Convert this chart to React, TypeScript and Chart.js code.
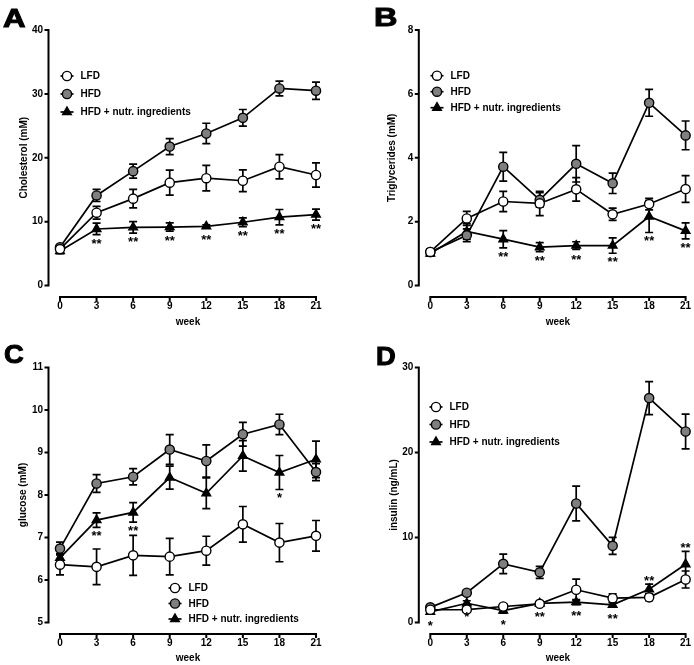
import React, { useEffect, useRef } from "react";
import { Chart, registerables } from "chart.js";

Chart.register(...registerables);

// ---------- data ----------
const weeks = [0, 3, 6, 9, 12, 15, 18, 21];
const seriesNames = ["LFD", "HFD", "HFD + nutr. ingredients"];

// A: Cholesterol (mM)
const cholTicks = [0, 10, 20, 30, 40];
const cholLFD = [5.7, 11.4, 13.6, 16.1, 16.8, 16.4, 18.6, 17.3];
const cholLFDErr = [0.4, 1.0, 1.45, 1.95, 2.0, 1.7, 1.9, 1.9];
const cholHFD = [6.0, 14.1, 17.9, 21.75, 23.8, 26.25, 30.85, 30.5];
const cholHFDErr = [0.3, 0.95, 1.1, 1.25, 1.6, 1.3, 1.15, 1.35];
const cholNut = [5.4, 8.85, 9.1, 9.15, 9.25, 9.9, 10.7, 11.1];
const cholNutErr = [0.4, 0.9, 0.9, 0.65, 0.25, 0.7, 1.2, 0.85];
const cholStars = ["", "**", "**", "**", "**", "**", "**", "**"];
const cholStarSide = ["b", "b", "b", "b", "b", "b", "b", "b"];

// B: Triglycerides (mM)
const trigTicks = [0, 2, 4, 6, 8];
const trigLFD = [1.05, 2.1, 2.63, 2.57, 3.01, 2.23, 2.55, 3.02];
const trigLFDErr = [0.1, 0.22, 0.32, 0.38, 0.37, 0.19, 0.18, 0.42];
const trigHFD = [1.05, 1.57, 3.72, 2.68, 3.81, 3.2, 5.72, 4.7];
const trigHFDErr = [0.1, 0.2, 0.45, 0.23, 0.57, 0.32, 0.42, 0.45];
const trigNut = [1.0, 1.69, 1.45, 1.2, 1.25, 1.25, 2.16, 1.71];
const trigNutErr = [0.08, 0.25, 0.27, 0.14, 0.12, 0.24, 0.5, 0.25];
const trigStars = ["", "", "**", "**", "**", "**", "**", "**"];
const trigStarSide = ["b", "b", "b", "b", "b", "b", "b", "b"];

// C: glucose (mM)
const gluTicks = [5, 6, 7, 8, 9, 10, 11];
const gluLFD = [6.36, 6.31, 6.58, 6.55, 6.69, 7.31, 6.88, 7.04];
const gluLFDErr = [0.24, 0.42, 0.47, 0.43, 0.34, 0.42, 0.45, 0.36];
const gluHFD = [6.74, 8.27, 8.43, 9.07, 8.8, 9.43, 9.66, 8.54];
const gluHFDErr = [0.15, 0.21, 0.19, 0.35, 0.38, 0.28, 0.24, 0.2];
const gluNut = [6.52, 7.41, 7.59, 8.41, 8.04, 8.92, 8.53, 8.84];
const gluNutErr = [0.1, 0.17, 0.23, 0.27, 0.36, 0.36, 0.4, 0.43];
const gluStars = ["", "**", "**", "", "", "", "*", ""];
const gluStarSide = ["b", "b", "b", "b", "b", "b", "b", "b"];

// D: insulin (ng/mL)
const insTicks = [0, 10, 20, 30];
const insLFD = [1.5, 1.52, 1.88, 2.2, 3.85, 2.86, 2.96, 5.06];
const insLFDErr = [0.2, 0.3, 0.3, 0.2, 1.25, 0.5, 0.4, 1.0];
const insHFD = [1.78, 3.5, 6.9, 5.9, 14.0, 9.02, 26.4, 22.47];
const insHFDErr = [0.2, 0.3, 1.15, 0.7, 2.05, 1.0, 1.95, 2.05];
const insNut = [1.25, 2.26, 1.4, 2.24, 2.4, 2.08, 3.92, 6.86];
const insNutErr = [0.2, 0.3, 0.3, 0.2, 0.3, 0.25, 0.6, 1.5];
const insStars = ["*", "*", "*", "**", "**", "**", "**", "**"];
const insStarSide = ["b", "b", "b", "b", "b", "b", "a", "a"];

// ---------- styling ----------
const FONT = "'Liberation Sans', Arial, Helvetica, sans-serif";
const fills = ["#ffffff", "#7f7f7f", "#000000"];
const pointStyles = ["circle", "circle", "triangle"];
const AXIS_GAP = 11.5;

type PanelCfg = {
  letter: string;
  letterX: number;
  letterY: number;
  letterScale: number;
  left: number;
  top: number;
  w: number;
  h: number;
  x0: number;
  x21: number;
  yTopPx: number;
  yBotPx: number;
  xTitleY: number;
  yMin: number;
  yMax: number;
  yTicks: number[];
  yTitle: string;
  yTitleX: number;
  series: number[][];
  errors: number[][];
  stars: string[];
  starSide: string[];
  legend: { dx: number; dy: number; gap: number };
};

const LEFT = { left: 0, w: 347, x0: 60, x21: 316 };
const RIGHT = { left: 347, w: 347, x0: 430.3, x21: 685.6 };
const TOP = { top: 0, h: 335, yTopPx: 30, yBotPx: 285.5, xTitleY: 322 };
const BOTTOM = { top: 335, h: 330, yTopPx: 367.5, yBotPx: 622.5, xTitleY: 658 };

const panels: PanelCfg[] = [
  {
    letter: "A", letterX: 3, letterY: 4.7, letterScale: 1.2,
    ...LEFT, ...TOP,
    yMin: 0, yMax: 40, yTicks: cholTicks, yTitle: "Cholesterol (mM)", yTitleX: 24.5,
    series: [cholLFD, cholHFD, cholNut], errors: [cholLFDErr, cholHFDErr, cholNutErr],
    stars: cholStars, starSide: cholStarSide,
    legend: { dx: 7, dy: 46, gap: 18 },
  },
  {
    letter: "B", letterX: 373.5, letterY: 4, letterScale: 1.25,
    ...RIGHT, ...TOP,
    yMin: 0, yMax: 8, yTicks: trigTicks, yTitle: "Triglycerides (mM)", yTitleX: 392,
    series: [trigLFD, trigHFD, trigNut], errors: [trigLFDErr, trigHFDErr, trigNutErr],
    stars: trigStars, starSide: trigStarSide,
    legend: { dx: 6.7, dy: 45.7, gap: 16 },
  },
  {
    letter: "C", letterX: 4, letterY: 341.3, letterScale: 1.05,
    ...LEFT, ...BOTTOM,
    yMin: 5, yMax: 11, yTicks: gluTicks, yTitle: "glucose (mM)", yTitleX: 23.3,
    series: [gluLFD, gluHFD, gluNut], errors: [gluLFDErr, gluHFDErr, gluNutErr],
    stars: gluStars, starSide: gluStarSide,
    legend: { dx: 115, dy: 220.5, gap: 15.5 },
  },
  {
    letter: "D", letterX: 375.5, letterY: 343, letterScale: 1.05,
    ...RIGHT, ...BOTTOM,
    yMin: 0, yMax: 30, yTicks: insTicks, yTitle: "insulin (ng/mL)", yTitleX: 394,
    series: [insLFD, insHFD, insNut], errors: [insLFDErr, insHFDErr, insNutErr],
    stars: insStars, starSide: insStarSide,
    legend: { dx: 5.7, dy: 39.5, gap: 17.5 },
  },
];

function drawMarker(ctx: CanvasRenderingContext2D, si: number, x: number, y: number) {
  ctx.beginPath();
  if (pointStyles[si] === "triangle") {
    const r = 5;
    ctx.moveTo(x, y - r);
    ctx.lineTo(x + r * 0.866, y + r / 2);
    ctx.lineTo(x - r * 0.866, y + r / 2);
    ctx.closePath();
  } else {
    ctx.arc(x, y, 4.6, 0, Math.PI * 2);
  }
  ctx.fillStyle = fills[si];
  ctx.fill();
  ctx.lineWidth = 1.4;
  ctx.strokeStyle = "#000";
  ctx.stroke();
}

function makeDecor(cfg: PanelCfg) {
  return {
    id: "decor" + cfg.letter,
    beforeDatasetsDraw(chart: any) {
      const ctx: CanvasRenderingContext2D = chart.ctx;
      const xs = chart.scales.x;
      const ys = chart.scales.y;
      ctx.save();
      ctx.strokeStyle = "#000";
      ctx.lineCap = "butt";
      // axes (offset, Prism style)
      const axX = xs.getPixelForValue(0) - AXIS_GAP;
      const axY = ys.getPixelForValue(cfg.yMin) + AXIS_GAP;
      ctx.lineWidth = 2;
      ctx.beginPath();
      ctx.moveTo(axX, ys.getPixelForValue(cfg.yMax) - 1);
      ctx.lineTo(axX, ys.getPixelForValue(cfg.yMin) + 1);
      cfg.yTicks.forEach((v) => {
        const p = ys.getPixelForValue(v);
        ctx.moveTo(axX - 4, p);
        ctx.lineTo(axX, p);
      });
      ctx.moveTo(xs.getPixelForValue(weeks[0]) - 1, axY);
      ctx.lineTo(xs.getPixelForValue(weeks[weeks.length - 1]) + 1, axY);
      weeks.forEach((w) => {
        const p = xs.getPixelForValue(w);
        ctx.moveTo(p, axY);
        ctx.lineTo(p, axY + 4);
      });
      ctx.stroke();
      // error bars
      ctx.lineWidth = 1.7;
      cfg.series.forEach((vals, si) => {
        const errs = cfg.errors[si];
        ctx.beginPath();
        vals.forEach((v, i) => {
          const e = errs[i];
          if (!e) return;
          const px = xs.getPixelForValue(weeks[i]);
          const y1 = ys.getPixelForValue(v + e);
          const y2 = ys.getPixelForValue(v - e);
          ctx.moveTo(px, y1);
          ctx.lineTo(px, y2);
          ctx.moveTo(px - 4, y1);
          ctx.lineTo(px + 4, y1);
          ctx.moveTo(px - 4, y2);
          ctx.lineTo(px + 4, y2);
        });
        ctx.stroke();
      });
      ctx.restore();
    },
    afterDatasetsDraw(chart: any) {
      const ctx: CanvasRenderingContext2D = chart.ctx;
      const xs = chart.scales.x;
      const ys = chart.scales.y;
      ctx.save();
      // significance stars (relative to the third series)
      const nut = cfg.series[2];
      const nutErr = cfg.errors[2];
      ctx.fillStyle = "#000";
      ctx.font = `bold 13px ${FONT}`;
      ctx.textAlign = "center";
      ctx.textBaseline = "alphabetic";
      cfg.stars.forEach((s, i) => {
        if (!s) return;
        const px = xs.getPixelForValue(weeks[i]);
        const py = ys.getPixelForValue(nut[i]);
        const errPx = Math.abs(ys.getPixelForValue(nut[i] + nutErr[i]) - py);
        const off = Math.max(11, errPx + 6);
        const cy = cfg.starSide[i] === "a" ? py - off : py + off;
        ctx.fillText(s, px, cy + 7);
      });
      // legend
      const lx = xs.getPixelForValue(0) + cfg.legend.dx;
      const ly0 = ys.getPixelForValue(cfg.yMax) + cfg.legend.dy;
      ctx.font = `bold 10px ${FONT}`;
      ctx.textAlign = "left";
      ctx.textBaseline = "middle";
      seriesNames.forEach((name, si) => {
        const y = ly0 + si * cfg.legend.gap;
        ctx.strokeStyle = "#000";
        ctx.lineWidth = 1.7;
        ctx.beginPath();
        ctx.moveTo(lx - 6.5, y);
        ctx.lineTo(lx + 6.5, y);
        ctx.stroke();
        drawMarker(ctx, si, lx, y);
        ctx.fillStyle = "#000";
        ctx.fillText(name, lx + 13.5, y + 0.5);
      });
      ctx.restore();
    },
  };
}

function Panel({ cfg }: { cfg: PanelCfg }) {
  const ref = useRef<HTMLCanvasElement>(null);
  useEffect(() => {
    const canvas = ref.current;
    if (!canvas) return;
    const areaLeft = cfg.x0 - cfg.left;
    const areaRight = cfg.x21 - cfg.left;
    const areaTop = cfg.yTopPx - cfg.top;
    const areaBottom = cfg.yBotPx - cfg.top;
    const tickFont = { family: FONT, size: 10, weight: "bold" as const, lineHeight: 1 };
    const titleFont = { family: FONT, size: 10, weight: "bold" as const, lineHeight: 1.2 };
    const datasets = cfg.series.map((vals, si) => ({
      label: seriesNames[si],
      data: weeks.map((w, i) => ({ x: w, y: vals[i] })),
      borderColor: "#000",
      borderWidth: 1.7,
      pointStyle: pointStyles[si],
      pointRadius: si === 2 ? 5 : 4.6,
      pointBorderWidth: 1.4,
      pointBorderColor: "#000",
      pointBackgroundColor: fills[si],
      fill: false,
      tension: 0,
      clip: false as any,
    }));
    const chart = new Chart(canvas, {
      type: "line",
      data: { datasets } as any,
      options: {
        animation: false,
        responsive: false,
        maintainAspectRatio: false,
        events: [],
        layout: { padding: { left: 0, top: areaTop, right: cfg.w - areaRight, bottom: 0 } },
        plugins: { legend: { display: false }, tooltip: { enabled: false } },
        scales: {
          x: {
            type: "linear",
            min: weeks[0],
            max: weeks[weeks.length - 1],
            bounds: "data",
            grid: { display: false, drawTicks: false, tickLength: 0 },
            border: { display: false },
            ticks: { font: tickFont, color: "#000", padding: 15.5, maxRotation: 0, autoSkip: false },
            title: {
              display: true,
              text: "week",
              color: "#000",
              font: titleFont,
              padding: { top: 0, bottom: cfg.top + cfg.h - cfg.xTitleY - 6 },
            },
            afterBuildTicks: (s: any) => {
              s.ticks = weeks.map((v) => ({ value: v }));
            },
            afterFit: (s: any) => {
              s.height = cfg.h - areaBottom;
              s.paddingLeft = 0;
              s.paddingRight = 0;
            },
          },
          y: {
            type: "linear",
            min: cfg.yMin,
            max: cfg.yMax,
            bounds: "data",
            grid: { display: false, drawTicks: false, tickLength: 0 },
            border: { display: false },
            ticks: { font: tickFont, color: "#000", padding: 17 },
            title: {
              display: true,
              text: cfg.yTitle,
              color: "#000",
              font: titleFont,
              padding: { top: cfg.yTitleX - cfg.left - 6, bottom: 0 },
            },
            afterBuildTicks: (s: any) => {
              s.ticks = cfg.yTicks.map((v) => ({ value: v }));
            },
            afterFit: (s: any) => {
              s.width = areaLeft;
              s.paddingTop = 0;
              s.paddingBottom = 0;
            },
          },
        },
      } as any,
      plugins: [makeDecor(cfg)],
    });
    return () => chart.destroy();
  }, [cfg]);
  return (
    <canvas
      ref={ref}
      width={cfg.w}
      height={cfg.h}
      style={{ position: "absolute", left: cfg.left, top: cfg.top, width: cfg.w, height: cfg.h, display: "block" }}
    />
  );
}

export default function App() {
  return (
    <div style={{ position: "absolute", left: 0, top: 0, width: 694, height: 665, background: "#fff", overflow: "hidden" }}>
      {panels.map((p) => (
        <Panel key={p.letter} cfg={p} />
      ))}
      {panels.map((p) => (
        <div
          key={"L" + p.letter}
          style={{
            position: "absolute",
            left: p.letterX,
            top: p.letterY,
            fontFamily: FONT,
            fontWeight: "bold",
            fontSize: 26,
            lineHeight: "26px",
            color: "#000",
            WebkitTextStroke: "1px #000",
            transform: `scaleX(${p.letterScale})`,
            transformOrigin: "left top",
          }}
        >
          {p.letter}
        </div>
      ))}
    </div>
  );
}
